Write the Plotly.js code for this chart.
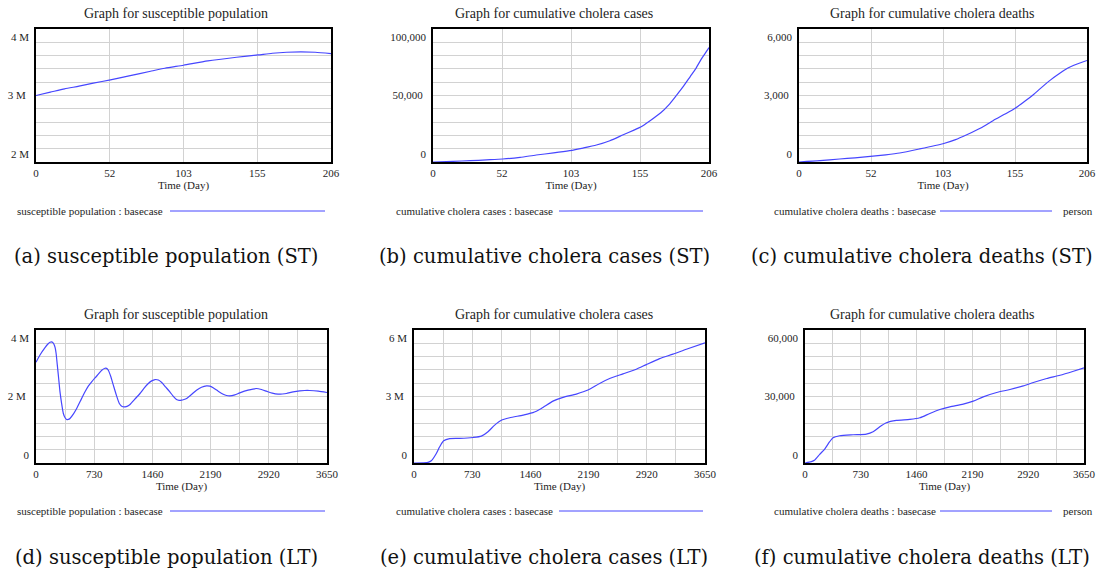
<!DOCTYPE html>
<html>
<head>
<meta charset="utf-8">
<script src="https://cdn.plot.ly/plotly-3.0.1.min.js"></script>
<style>html,body{margin:0;padding:0;background:#fff;}#chart{width:1101px;height:573px;}</style>
</head>
<body>
<div id="chart"></div>
<script>
// ---------- DATA ----------
const panelTitles = ["Graph for susceptible population","Graph for cumulative cholera cases","Graph for cumulative cholera deaths",
                     "Graph for susceptible population","Graph for cumulative cholera cases","Graph for cumulative cholera deaths"];
const legendLabels = ["susceptible population : basecase","cumulative cholera cases : basecase","cumulative cholera deaths : basecase",
                      "susceptible population : basecase","cumulative cholera cases : basecase","cumulative cholera deaths : basecase"];
const unitLabels = ["","","person","","","person"];
const captions = ["(a) susceptible population (ST)","(b) cumulative cholera cases (ST)","(c) cumulative cholera deaths (ST)",
                  "(d) susceptible population (LT)","(e) cumulative cholera cases (LT)","(f) cumulative cholera deaths (LT)"];
const xTitle = "Time (Day)";

// short term (days 0-206)
const stTickVals = [0, 51.5, 103, 154.5, 206];
const stTickText = ["0", "52", "103", "155", "206"];
const ltTickVals = [0, 730, 1460, 2190, 2920, 3650];
const ltTickText = ["0", "730", "1460", "2190", "2920", "3650"];

const stSuscTime = [0,10,20,30,40,52,65,80,90,103,120,140,155,165,175,185,195,206];
const stSusc     = [3.00e6,3.05e6,3.10e6,3.14e6,3.185e6,3.235e6,3.295e6,3.365e6,3.41e6,3.455e6,3.52e6,3.575e6,3.61e6,3.635e6,3.65e6,3.655e6,3.65e6,3.63e6];

const stCasesTime = [0,15,28,40,52,65,77,90,102,112,122,132,142,150,155,162,170,176,182,187,192,196,200,203,206];
const stCases     = [0,500,1000,1600,2250,3500,5250,6800,8500,10500,12750,16000,20500,24000,26250,31000,37000,43000,50500,57000,64250,70000,77000,81500,86000];

const stDeathsTime = [0,15,29,40,51,62,72,86,103,112,120,130,139,147,154,161,168,174,180,186,192,199,206];
const stDeaths     = [0,60,135,190,255,325,405,585,825,1010,1230,1530,1875,2150,2400,2720,3060,3390,3705,3980,4230,4420,4580];

// long term (days 0-3650)
const ltSuscTime = [0,50,113,150,176,195,212,228,240,252,267,284,301,322,343,365,385,405,426,468,510,560,615,656,698,740,782,825,865,885,907,938,970,1008,1045,1080,1116,1148,1179,1240,1304,1356,1409,1451,1493,1535,1577,1628,1679,1720,1762,1795,1825,1856,1888,1950,2013,2076,2139,2180,2222,2285,2348,2390,2431,2494,2556,2660,2765,2828,2890,2963,3036,3090,3141,3225,3308,3370,3433,3540,3650];
const ltSusc     = [3.03e6,3.25e6,3.47e6,3.58e6,3.63e6,3.645e6,3.62e6,3.56e6,3.47e6,3.30e6,2.95e6,2.55e6,2.14e6,1.78e6,1.49e6,1.36e6,1.31e6,1.31e6,1.34e6,1.47e6,1.64e6,1.88e6,2.14e6,2.31e6,2.44e6,2.56e6,2.67e6,2.79e6,2.85e6,2.845e6,2.79e6,2.60e6,2.34e6,2.04e6,1.79e6,1.70e6,1.69e6,1.71e6,1.76e6,1.92e6,2.09e6,2.25e6,2.39e6,2.47e6,2.51e6,2.495e6,2.42e6,2.28e6,2.14e6,2.01e6,1.91e6,1.885e6,1.89e6,1.91e6,1.94e6,2.06e6,2.19e6,2.28e6,2.32e6,2.31e6,2.26e6,2.16e6,2.07e6,2.03e6,2.02e6,2.05e6,2.11e6,2.19e6,2.24e6,2.21e6,2.16e6,2.10e6,2.07e6,2.075e6,2.09e6,2.14e6,2.17e6,2.18e6,2.18e6,2.16e6,2.12e6];

const ltCasesTime = [0,176,217,280,322,372,447,573,740,845,928,1012,1095,1200,1367,1492,1597,1743,1869,2036,2182,2328,2454,2621,2788,2914,3081,3249,3416,3650];
const ltCases     = [0,0.03e6,0.10e6,0.43e6,0.73e6,1.00e6,1.10e6,1.11e6,1.15e6,1.21e6,1.41e6,1.71e6,1.93e6,2.04e6,2.16e6,2.27e6,2.46e6,2.79e6,2.96e6,3.11e6,3.29e6,3.59e6,3.81e6,4.02e6,4.23e6,4.44e6,4.71e6,4.91e6,5.13e6,5.42e6];

const ltDeathsTime = [0,83,127,192,258,323,367,454,629,803,891,978,1065,1196,1371,1502,1633,1764,1895,2070,2201,2332,2507,2681,2856,2987,3162,3337,3512,3650];
const ltDeaths     = [0,600,1350,3900,6300,9600,11400,12300,12750,13050,14100,16350,18150,19200,19650,20400,22350,24150,25350,26550,27900,29850,31800,33150,34800,36300,38100,39600,41400,42900];

const yRanges = [[2e6,4e6],[0,100000],[0,6000],[0,4e6],[0,6e6],[0,60000]];
// y tick labels: [bottom, middle, top]
const yTickVals = [[2e6,3e6,4e6],[0,50000,100000],[0,3000,6000],[0,2e6,4e6],[0,3e6,6e6],[0,30000,60000]];
const yTickText = [["2 M","3 M","4 M"],["0","50,000","100,000"],["0","3,000","6,000"],["0","2 M","4 M"],["0","3 M","6 M"],["0","30,000","60,000"]];

// ---------- LAYOUT (pixel boxes) ----------
const W = 1101, H = 573;
const boxes = [ // [left, right, top, bottom] px
  [36,331,29,162],[433,709,29,162],[799,1087,29,162],
  [36,327,330,463],[414,705,330,463],[805,1084,330,463]
];
const titlePos = [[176,13],[554,13],[932,13],[176,314],[554,314],[932,314]];
const legendPos = [ // textRight, lineStart, lineEnd, personLeft, y
  [165,170,325,0,211],[555,559,703,0,211],[938,940,1052,1061,211],
  [165,170,325,0,511],[555,559,703,0,511],[938,940,1052,1061,511]
];
const captionPos = [[166,257],[544,257],[922,257],[166,557],[544,557],[922,557]];

const px = x => x / W;
const py = y => 1 - y / H;

const series = [
  [stSuscTime, stSusc],[stCasesTime, stCases],[stDeathsTime, stDeaths],
  [ltSuscTime, ltSusc],[ltCasesTime, ltCases],[ltDeathsTime, ltDeaths]
];

const serif = '"Liberation Serif", "Times New Roman", Times, serif';
const capFont = '"DejaVu Serif", serif';
const txtColor = "#1e1e1e";
const gridColor = "#d2d2d2";
const lineColor = "#4646ff";
const tickFont = {family: serif, size: 11, color: txtColor};

const traces = [];
const layout = {
  width: W, height: H,
  margin: {l:0, r:0, t:0, b:0},
  paper_bgcolor: "#fff", plot_bgcolor: "#fff",
  showlegend: false,
  font: {family: serif, color: txtColor, size: 11},
  annotations: [], shapes: []
};

for (let i = 0; i < 6; i++) {
  const n = i + 1;
  const xa = n === 1 ? "x" : "x" + n;
  const ya = n === 1 ? "y" : "y" + n;
  traces.push({
    x: series[i][0], y: series[i][1], type: "scatter", mode: "lines",
    line: {color: lineColor, width: 1.2, shape: "spline", smoothing: 0.6},
    xaxis: xa, yaxis: ya, hoverinfo: "skip"
  });
  const b = boxes[i];
  const isST = i < 3;
  const yr = yRanges[i];
  layout["xaxis" + (n === 1 ? "" : n)] = {
    domain: [px(b[0]), px(b[1])], anchor: ya,
    range: isST ? [0, 206] : [0, 3650],
    tickmode: "array",
    tickvals: isST ? stTickVals : ltTickVals,
    ticktext: isST ? stTickText : ltTickText,
    ticks: "", ticklabelstandoff: 0,
    showgrid: true, gridcolor: gridColor, gridwidth: 1,
    minor: isST ? {} : {tick0: 0, dtick: 365, showgrid: true, gridcolor: gridColor, gridwidth: 1, ticks: ""},
    zeroline: false,
    showline: true, mirror: true, linecolor: "#000", linewidth: 2,
    tickfont: tickFont,
    title: {text: xTitle, font: {family: serif, size: 11, color: txtColor}, standoff: 0}
  };
  layout["yaxis" + (n === 1 ? "" : n)] = {
    domain: [py(b[3]), py(b[2])], anchor: xa,
    range: yr,
    tickmode: "array", tickvals: [yTickVals[i][1]], ticktext: [yTickText[i][1]],
    ticks: "", ticklabelstandoff: 6,
    showgrid: true, gridcolor: gridColor, gridwidth: 1,
    minor: {tick0: yr[0], dtick: (yr[1]-yr[0])/10, showgrid: true, gridcolor: gridColor, gridwidth: 1, ticks: ""},
    zeroline: false,
    showline: true, mirror: true, linecolor: "#000", linewidth: 2,
    tickfont: tickFont
  };
  // overlay axes: top label just inside (below) top edge, bottom label just inside (above) bottom edge
  const topId = 6 + 2*i + 1, botId = 6 + 2*i + 2;
  const overlayBase = {
    overlaying: ya, anchor: xa, side: "left", range: yr, tickmode: "array",
    ticks: "", ticklabelstandoff: 6, showgrid: false, showline: false, zeroline: false,
    ticklabeloverflow: "allow", tickfont: tickFont
  };
  layout["yaxis" + topId] = Object.assign({}, overlayBase, {
    tickvals: [yTickVals[i][2]], ticktext: [yTickText[i][2]], ticklabelposition: "outside bottom"
  });
  layout["yaxis" + botId] = Object.assign({}, overlayBase, {
    tickvals: [yTickVals[i][0]], ticktext: [yTickText[i][0]], ticklabelposition: "outside top"
  });
  // empty traces register the overlay axes (no marks drawn)
  traces.push({x: [], y: [], type: "scatter", mode: "lines", xaxis: xa, yaxis: "y" + topId, hoverinfo: "skip"});
  traces.push({x: [], y: [], type: "scatter", mode: "lines", xaxis: xa, yaxis: "y" + botId, hoverinfo: "skip"});

  layout.annotations.push({
    xref: "paper", yref: "paper", x: px(titlePos[i][0]), y: py(titlePos[i][1]),
    text: panelTitles[i], showarrow: false, xanchor: "center", yanchor: "middle",
    font: {family: serif, size: 14, color: txtColor}
  });
  const lp = legendPos[i];
  layout.annotations.push({
    xref: "paper", yref: "paper", x: px(lp[0]), y: py(lp[4]),
    text: legendLabels[i], showarrow: false, xanchor: "right", yanchor: "middle",
    font: {family: serif, size: 11, color: txtColor}
  });
  layout.shapes.push({
    type: "line", xref: "paper", yref: "paper",
    x0: px(lp[1]), x1: px(lp[2]), y0: py(lp[4]), y1: py(lp[4]),
    line: {color: lineColor, width: 1}
  });
  if (unitLabels[i]) {
    layout.annotations.push({
      xref: "paper", yref: "paper", x: px(lp[3]), y: py(lp[4]),
      text: unitLabels[i], showarrow: false, xanchor: "left", yanchor: "middle",
      font: {family: serif, size: 11, color: txtColor}
    });
  }
  layout.annotations.push({
    xref: "paper", yref: "paper", x: px(captionPos[i][0]), y: py(captionPos[i][1]),
    text: captions[i], showarrow: false, xanchor: "center", yanchor: "middle",
    font: {family: capFont, size: 19.5, color: "#111"}
  });
}

Plotly.newPlot("chart", traces, layout, {staticPlot: true, displayModeBar: false});
</script>
</body>
</html>
